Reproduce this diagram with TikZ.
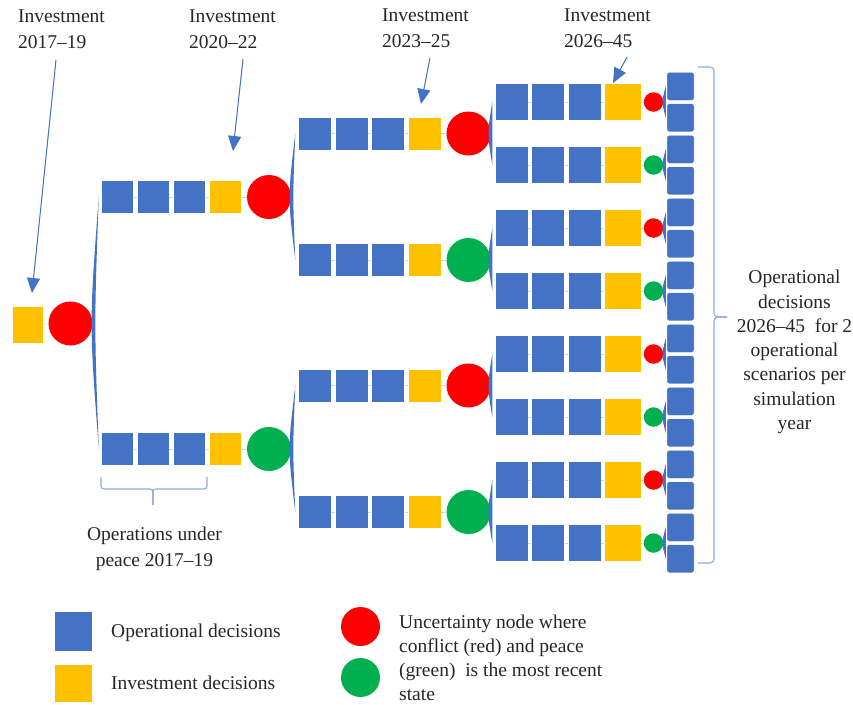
\documentclass[tikz,border=0pt]{standalone}
\usepackage{fontspec}
\setmainfont{Liberation Serif}
\usetikzlibrary{arrows.meta,calc}

\definecolor{opblue}{HTML}{4472C4}
\definecolor{invyellow}{HTML}{FFC000}
\definecolor{conflictred}{HTML}{FF0000}
\definecolor{peacegreen}{HTML}{00B050}
\definecolor{bracecol}{HTML}{8FAADC}
\definecolor{inkcol}{HTML}{262626}

% branching stroke: a thin tapered lens from the parent state to two child rows
\newcommand{\branchto}[3]{%
  \fill[opblue] ($(#2.west)+(-2.5,0)$) .. controls ($(#1.east)+(-3.5,0)$) .. ($(#3.west)+(-2.5,0)$)
    .. controls ($(#1.east)+(1.5,0)$) .. cycle;}
\newcommand{\smallbranch}[3]{%
  \fill[opblue] ($(#2.west)+(-1,0)$) .. controls ($(#1.east)+(-2,0)$) .. ($(#3.west)+(-1,0)$)
    .. controls ($(#1.east)+(2,0)$) .. cycle;}

\begin{document}
\begin{tikzpicture}[x=1pt,y=-1pt,
  opbox/.style={fill=opblue, draw=white, line width=0.4pt, inner sep=0pt},
  invbox/.style={fill=invyellow, draw=white, line width=0.4pt, inner sep=0pt},
  sizeone/.style={minimum width=32pt, minimum height=33pt},
  sizetwo/.style={minimum width=33pt, minimum height=33pt},
  sizethree/.style={minimum width=33pt, minimum height=37pt},
  sizeinv/.style={minimum width=37pt, minimum height=37pt},
  colbox/.style={opbox, rounded corners=2pt, minimum width=27pt, minimum height=28pt},
  bigstate/.style={circle, inner sep=0pt, minimum size=44pt},
  smallstate/.style={circle, inner sep=0pt, minimum size=19.5pt},
  link/.style={draw=opblue!30, line width=0.4pt},
  pointer/.style={draw=opblue, line width=1pt, -{Triangle[width=13pt,length=15pt]}, fill=opblue},
  bracestyle/.style={draw=bracecol, line width=1.1pt},
  txt/.style={text=inkcol, inner sep=0pt, font=\fontsize{19.5}{26}\selectfont},
]
\useasboundingbox (0,0) rectangle (853,704);

% root: first investment and first uncertainty node
\node[invbox, minimum width=31pt, minimum height=37pt] (r-inv) at (27.5,324.5) {};
\node[bigstate, fill=conflictred] (r-c) at (70.5,323.5) {};
\draw[link] (r-inv) -- (r-c);

% stage 1 (2017-19 operations, 2020-22 investment)
\foreach \r/\y/\col in {1/197/conflictred, 2/449/peacegreen} {
  \node[opbox, sizeone] (a\r-1) at (117.5,\y) {};
  \node[opbox, sizeone] (a\r-2) at (153,\y) {};
  \node[opbox, sizeone] (a\r-3) at (189.5,\y) {};
  \node[invbox, sizeone] (a\r-4) at (225.5,\y) {};
  \node[bigstate, fill=\col] (a\r-c) at (269,\y) {};
  \draw[link] (a\r-1) -- (a\r-2) (a\r-2) -- (a\r-3) (a\r-3) -- (a\r-4) (a\r-4) -- (a\r-c);
}
\branchto{r-c}{a1-1}{a2-1}

% stage 2 (2020-22 operations, 2023-25 investment)
\foreach \r/\y/\col in {1/133.5/conflictred, 2/260/peacegreen, 3/385.5/conflictred, 4/512/peacegreen} {
  \node[opbox, sizetwo] (b\r-1) at (314.5,\y) {};
  \node[opbox, sizetwo] (b\r-2) at (351.5,\y) {};
  \node[opbox, sizetwo] (b\r-3) at (388,\y) {};
  \node[invbox, sizetwo] (b\r-4) at (424.5,\y) {};
  \node[bigstate, fill=\col] (b\r-c) at (468.5,\y) {};
  \draw[link] (b\r-1) -- (b\r-2) (b\r-2) -- (b\r-3) (b\r-3) -- (b\r-4) (b\r-4) -- (b\r-c);
}
\branchto{a1-c}{b1-1}{b2-1}
\branchto{a2-c}{b3-1}{b4-1}

% stage 3 (2023-25 operations, 2026-45 investment) and the operational column
\foreach \k/\col in {0/conflictred, 1/peacegreen, 2/conflictred, 3/peacegreen,
                     4/conflictred, 5/peacegreen, 6/conflictred, 7/peacegreen} {
  \pgfmathsetmacro{\y}{102+63*\k}
  \node[opbox, sizethree] (c\k-1) at (511.5,\y) {};
  \node[opbox, sizethree] (c\k-2) at (548,\y) {};
  \node[opbox, sizethree] (c\k-3) at (584.5,\y) {};
  \node[invbox, sizeinv] (c\k-4) at (622.5,\y) {};
  \node[smallstate, fill=\col] (c\k-c) at (653.5,\y) {};
  \node[colbox] (d\k-u) at (680.5,\y-15.75) {};
  \node[colbox] (d\k-l) at (680.5,\y+15.75) {};
  \draw[link] (c\k-1) -- (c\k-2) (c\k-2) -- (c\k-3) (c\k-3) -- (c\k-4) (c\k-4) -- (c\k-c);
  \smallbranch{c\k-c}{d\k-u}{d\k-l}
}
\branchto{b1-c}{c0-1}{c1-1}
\branchto{b2-c}{c2-1}{c3-1}
\branchto{b3-c}{c4-1}{c5-1}
\branchto{b4-c}{c6-1}{c7-1}

% investment labels with pointers
\node[txt, anchor=north west, align=left] (inv1) at (18,10) {Investment\\2017–19};
\node[txt, anchor=north west, align=left] (inv2) at (189,10) {Investment\\2020–22};
\node[txt, anchor=north west, align=left] (inv3) at (382,9) {Investment\\2023–25};
\node[txt, anchor=north west, align=left] (inv4) at (564,9) {Investment\\2026–45};
\coordinate (p1s) at (56,60);   \coordinate (p1e) at (32,293);
\coordinate (p2s) at (243,59);  \coordinate (p2e) at (233,151);
\coordinate (p3s) at (430,58);  \coordinate (p3e) at (421,104);
\coordinate (p4s) at (627,57);  \coordinate (p4e) at (613,83);
\draw[pointer] (p1s) -- (p1e);
\draw[pointer] (p2s) -- (p2e);
\draw[pointer] (p3s) -- (p3e);
\draw[pointer] (p4s) -- (p4e);

% brace under the first operations
\draw[bracestyle, rounded corners=3pt] (101,477) -- (101,489) -- (153,489) -- (153,505);
\draw[bracestyle, rounded corners=3pt] (153,505) -- (153,489) -- (207,489) -- (207,477);
\node[txt, anchor=north, align=center] (opsnote) at (154.5,527) {Operations under\\peace 2017–19};

% brace along the operational column
\draw[bracestyle, rounded corners=4pt] (698,67) -- (714,67) -- (714,317) -- (727,317);
\draw[bracestyle, rounded corners=4pt] (727,317) -- (714,317) -- (714,563) -- (698,563);
\node[txt, anchor=north, align=center, font=\fontsize{19.5}{24.3}\selectfont] (colnote) at (794.5,270)
  {Operational\\decisions\\2026–45\ \ for 2\\operational\\scenarios per\\simulation\\year};

% legend
\node[opbox, minimum width=38pt, minimum height=40pt] (lg-op) at (73,631) {};
\node[invbox, minimum width=38pt, minimum height=38pt] (lg-inv) at (73,683) {};
\node[txt, anchor=base west] (lg-optxt) at (111,637) {Operational decisions};
\node[txt, anchor=base west] (lg-invtxt) at (111,689) {Investment decisions};
\node[circle, inner sep=0pt, minimum width=39pt, fill=conflictred] (lg-red) at (360.5,626.5) {};
\node[circle, inner sep=0pt, minimum width=39pt, fill=peacegreen] (lg-green) at (360.5,677.5) {};
\node[txt, anchor=north west, align=left, font=\fontsize{19.5}{24}\selectfont] (lg-state) at (399,615)
  {Uncertainty node where\\conflict (red) and peace\\(green)\ \ is the most recent\\state};
\end{tikzpicture}
\end{document}
